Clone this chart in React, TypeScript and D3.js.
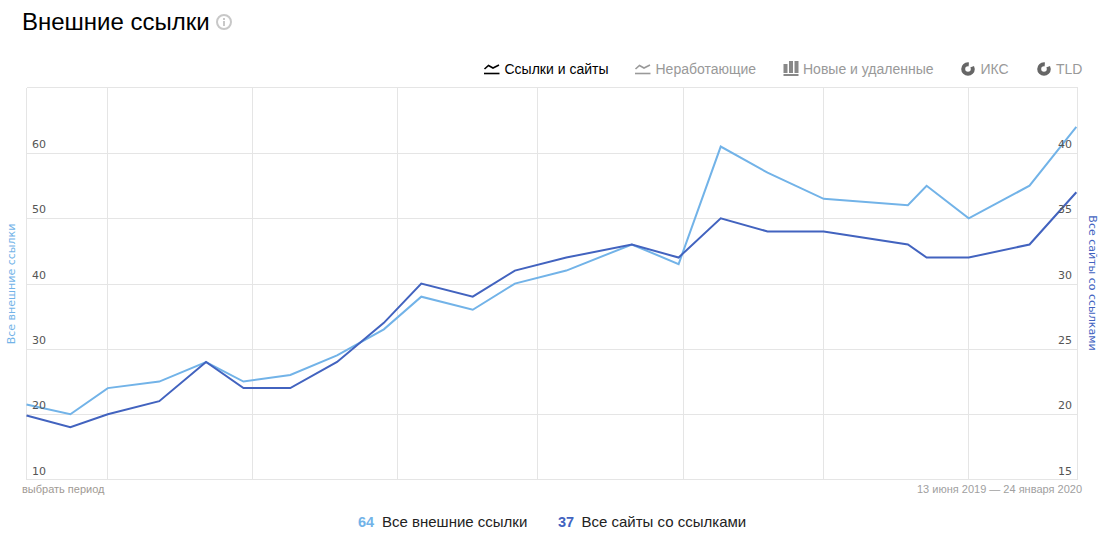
import React from "react";
import * as d3 from "d3";

const W = 1106, H = 534;
const dates = ["2019-06-13","2019-06-23","2019-07-01","2019-07-12","2019-07-22","2019-07-30","2019-08-09","2019-08-19","2019-08-29","2019-09-06","2019-09-17","2019-09-26","2019-10-07","2019-10-21","2019-10-31","2019-11-09","2019-11-19","2019-12-01","2019-12-19","2019-12-23","2020-01-01","2020-01-14","2020-01-24"];
const allLinks = [21.5,20,24,25,28,25,26,29,33,38,36,40,42,46,43,61,57,53,52,55,50,55,64];
const allSites = [19.9,19,20,21,24,22,22,24,27,30,29,31,32,33,32,35,34,34,33,32,32,33,37];
const monthTicks = ["2019-07-01","2019-08-01","2019-09-01","2019-10-01","2019-11-01","2019-12-01","2020-01-01"];
const leftTicks = [10,20,30,40,50,60];
const rightTicks = [15,20,25,30,35,40];
const tabs = ["Ссылки и сайты","Неработающие","Новые и удаленные","ИКС","TLD"];
const tabX = [504.5,655.5,803,980.5,1056];

const LIGHT = "#72b3e8", DARK = "#4263bf", GRID = "#e5e5e5";
const F = "'Liberation Sans', Arial, sans-serif";
const TF = "'DejaVu Sans', sans-serif";
const L = 26.5, R = 1077.5, T = 87.5, B = 479.5;

const parse = (s: string) => new Date(s + "T04:00:00Z");
const x = d3.scaleTime()
  .domain([new Date("2019-06-13T19:00:00Z"), new Date("2020-01-24T10:00:00Z")])
  .range([L, R]);
const yL = d3.scaleLinear().domain([10, 70]).range([B, T + 0.3]);
const yR = d3.scaleLinear().domain([15, 45]).range([B, T + 0.3]);
const tickX = (s: string) => Math.round(x(new Date(s + "T00:00:00Z"))) + 0.5;
const clampX = (s: string) => Math.max(L, Math.min(R, x(parse(s))));

const lineL = d3.line<number>().x((_, i) => clampX(dates[i])).y(d => yL(d));
const lineR = d3.line<number>().x((_, i) => clampX(dates[i])).y(d => yR(d));

function LineIcon({ x0, color }: { x0: number; color: string }) {
  return (
    <g transform={`translate(${x0},63)`} fill="none" stroke={color}>
      <path d="M0.5 6 L4.5 2.5 L9 5 L15 2" strokeWidth={1.6} />
      <path d="M0 10.5 H15.5" strokeWidth={1.6} />
    </g>
  );
}
function BarIcon({ x0, color }: { x0: number; color: string }) {
  return (
    <g transform={`translate(${x0},61)`} fill={color}>
      <rect x={0} y={3} width={4} height={9} />
      <rect x={5.5} y={0} width={4} height={12} />
      <rect x={11} y={0} width={4} height={12} />
      <rect x={0} y={13} width={15} height={2} />
    </g>
  );
}
function PieIcon({ cx, color }: { cx: number; color: string }) {
  return (
    <g transform={`translate(${cx},69)`}>
      <circle r={4.8} fill="none" stroke={color} strokeWidth={4} />
      <path d="M0.5 -1 L7.5 -3.5 L7.5 -7.5 L1 -7.5 Z" fill="#fff" />
    </g>
  );
}

export default function App() {
  return (
    <svg width={W} height={H} viewBox={`0 0 ${W} ${H}`} style={{ position: "absolute", left: 0, top: 0, background: "#fff" }}>
      <text x={22} y={30} fontFamily={F} fontSize={24} fill="#000">Внешние ссылки</text>
      <g transform="translate(224,22)">
        <circle r={7} fill="none" stroke="#c8c8c8" strokeWidth={2} />
        <rect x={-1} y={-1} width={2} height={5} fill="#c8c8c8" />
        <rect x={-1} y={-4} width={2} height={2} fill="#c8c8c8" />
      </g>

      <LineIcon x0={484} color="#000" />
      <LineIcon x0={635} color="#999" />
      <BarIcon x0={783.5} color="#888" />
      <PieIcon cx={968} color="#666" />
      <PieIcon cx={1044} color="#666" />
      {tabs.map((t, i) => (
        <text key={t} x={tabX[i]} y={74} fontFamily={F} fontSize={14} fill={i === 0 ? "#000" : "#999"}>{t}</text>
      ))}

      <g stroke={GRID} strokeWidth={1} shapeRendering="crispEdges">
        {leftTicks.map(v => {
          const y = Math.min(B, Math.round(yL(v)) + 0.5);
          return <line key={v} x1={L} x2={R} y1={y} y2={y} />;
        })}
        {monthTicks.map(m => <line key={m} x1={tickX(m)} x2={tickX(m)} y1={T} y2={B} />)}
        <line x1={L} x2={R} y1={T} y2={T} />
        <line x1={L} x2={L} y1={T} y2={B} />
        <line x1={R} x2={R} y1={T} y2={B} />
      </g>

      <path d={lineL(allLinks) ?? ""} fill="none" stroke={LIGHT} strokeWidth={2} />
      <path d={lineR(allSites) ?? ""} fill="none" stroke={DARK} strokeWidth={2} />

      {leftTicks.map(v => (
        <text key={v} x={32} y={yL(v) - 5} fontFamily={TF} fontSize={11} fill="#555">{v}</text>
      ))}
      {rightTicks.map(v => (
        <text key={v} x={1072} y={yR(v) - 5} textAnchor="end" fontFamily={TF} fontSize={11} fill="#555">{v}</text>
      ))}

      <text transform="translate(15,284) rotate(-90)" textAnchor="middle" fontFamily={TF} fontSize={11} fill={LIGHT}>Все внешние ссылки</text>
      <text transform="translate(1089,283) rotate(90)" textAnchor="middle" fontFamily={TF} fontSize={11} fill={DARK}>Все сайты со ссылками</text>

      <text x={22} y={493} fontFamily={F} fontSize={11} fill="#a09a94">выбрать период</text>
      <text x={1082} y={493} textAnchor="end" fontFamily={F} fontSize={11} fill="#a0a0a0">13 июня 2019 — 24 января 2020</text>

      <text x={358} y={527} fontFamily={F} fontSize={14.5} fontWeight={700} fill={LIGHT}>{allLinks[allLinks.length - 1]}</text>
      <text x={382} y={527} fontFamily={F} fontSize={15} fill="#222">Все внешние ссылки</text>
      <text x={558} y={527} fontFamily={F} fontSize={14.5} fontWeight={700} fill={DARK}>{allSites[allSites.length - 1]}</text>
      <text x={581.5} y={527} fontFamily={F} fontSize={15} fill="#222">Все сайты со ссылками</text>
    </svg>
  );
}
